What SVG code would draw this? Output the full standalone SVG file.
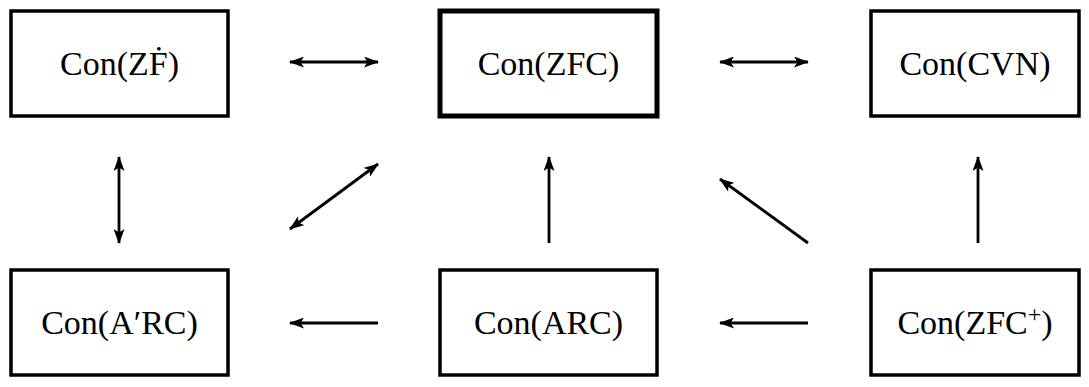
<svg xmlns="http://www.w3.org/2000/svg" width="1089" height="387" viewBox="0 0 1089 387">
<style>
.box{fill:#fff;stroke:#000;stroke-width:3.5}
.thick{stroke-width:5}
.lbl{font-family:"Liberation Serif","DejaVu Serif",serif;font-size:34px;text-anchor:middle;fill:#000}
.c{stroke:#000;fill:none;stroke-width:2.8}
</style>
<defs>
<marker id="ah" viewBox="0 0 15 11" refX="14" refY="5.5" markerWidth="15" markerHeight="11" markerUnits="userSpaceOnUse" orient="auto-start-reverse">
<path d="M0,0 L15,5.5 L0,11 L3.5,5.5 Z" fill="#000"/>
</marker>
</defs>
<g id="n-zf"><rect class="box" x="11" y="11" width="217" height="105"/><text class="lbl" x="119.5" y="75">Con(ZḞ)</text></g>
<g id="n-zfc"><rect class="box thick" x="440" y="11" width="217" height="105"/><text class="lbl" x="548.5" y="75">Con(ZFC)</text></g>
<g id="n-cvn"><rect class="box" x="871" y="11" width="208" height="105"/><text class="lbl" x="975" y="75">Con(CVN)</text></g>
<g id="n-arc2"><rect class="box" x="11" y="270" width="217" height="105"/><text class="lbl" x="119.5" y="334">Con(A′RC)</text></g>
<g id="n-arc"><rect class="box" x="440" y="270" width="217" height="105"/><text class="lbl" x="548.5" y="334">Con(ARC)</text></g>
<g id="n-zfcp"><rect class="box" x="871" y="270" width="208" height="105"/><text class="lbl" x="975" y="334">Con(ZFC<tspan dy="-12" font-size="24">+</tspan><tspan dy="12">)</tspan></text></g>
<g id="connectors">
<line class="c" x1="290" y1="62" x2="378" y2="62" marker-start="url(#ah)" marker-end="url(#ah)"/>
<line class="c" x1="720" y1="62" x2="808" y2="62" marker-start="url(#ah)" marker-end="url(#ah)"/>
<line class="c" x1="119" y1="157" x2="119" y2="243" marker-start="url(#ah)" marker-end="url(#ah)"/>
<line class="c" x1="290" y1="229" x2="378" y2="164" marker-start="url(#ah)" marker-end="url(#ah)"/>
<line class="c" x1="549" y1="243" x2="549" y2="157" marker-end="url(#ah)"/>
<line class="c" x1="808" y1="243" x2="720" y2="179" marker-end="url(#ah)"/>
<line class="c" x1="978" y1="243" x2="978" y2="157" marker-end="url(#ah)"/>
<line class="c" x1="378" y1="323" x2="290" y2="323" marker-end="url(#ah)"/>
<line class="c" x1="808" y1="323" x2="720" y2="323" marker-end="url(#ah)"/>
</g>
</svg>
